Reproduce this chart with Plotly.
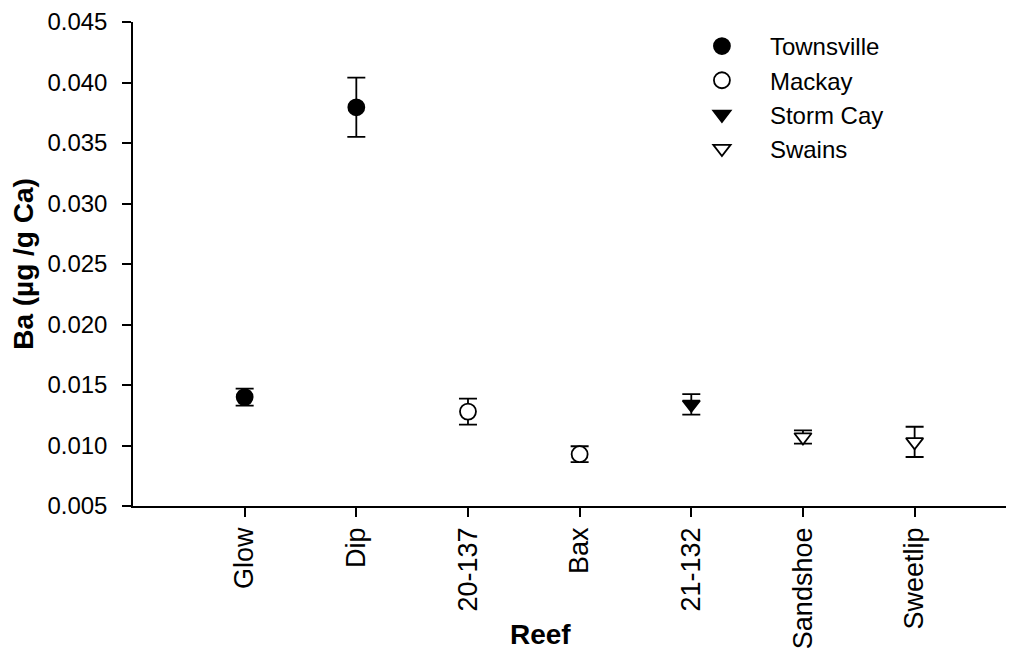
import plotly.graph_objects as go

reefs = ["Glow", "Dip", "20-137", "Bax", "21-132", "Sandshoe", "Sweetlip"]
reef_pos = [1, 2, 3, 4, 5, 6, 7]

townsville_x = [1, 2]
townsville_y = [0.0140, 0.03795]
townsville_err = [0.0007, 0.00245]

mackay_x = [3, 4]
mackay_y = [0.0128, 0.00928]
mackay_err = [0.00107, 0.00066]

stormcay_x = [5]
stormcay_y = [0.0134]
stormcay_err = [0.00085]

swains_x = [6, 7]
swains_y = [0.0107, 0.0103]
swains_err = [0.00055, 0.00125]

yticks = [0.005, 0.010, 0.015, 0.020, 0.025, 0.030, 0.035, 0.040, 0.045]

FONT = "Liberation Sans, Arial, sans-serif"

def series(name, xs, ys, errs, symbol, fill):
    return go.Scatter(
        x=xs, y=ys, name=name, mode="markers",
        marker=dict(symbol=symbol, size=15 if "triangle" in symbol else 16,
                    color=fill, line=dict(color="black", width=1.8)),
        error_y=dict(type="data", array=errs, visible=True, color="black",
                     thickness=1.8, width=9),
    )

fig = go.Figure()
fig.add_trace(series("Townsville", townsville_x, townsville_y, townsville_err, "circle", "black"))
fig.add_trace(series("Mackay", mackay_x, mackay_y, mackay_err, "circle", "white"))
fig.add_trace(series("Storm Cay", stormcay_x, stormcay_y, stormcay_err, "triangle-down", "black"))
fig.add_trace(series("Swains", swains_x, swains_y, swains_err, "triangle-down", "white"))

fig.update_layout(
    width=1006, height=653,
    paper_bgcolor="white", plot_bgcolor="white",
    margin=dict(l=125, r=0, t=12, b=155),
    font=dict(family=FONT, size=24, color="black"),
    showlegend=True,
    legend=dict(x=0.614, y=0.996, xanchor="left", yanchor="top", itemwidth=86,
                bgcolor="rgba(0,0,0,0)", font=dict(size=24)),
    xaxis=dict(
        range=[0, 7.89], tickmode="array", tickvals=reef_pos, ticktext=reefs,
        tickangle=-90, ticks="outside", ticklen=9, tickwidth=1.5, tickcolor="black",
        tickfont=dict(size=27), ticklabeloverflow="allow",
        showline=True, linecolor="black", linewidth=1.5, showgrid=False, zeroline=False,
    ),
    yaxis=dict(
        range=[0.005, 0.045], tickmode="array", tickvals=yticks,
        ticktext=[f"{v:.3f}" for v in yticks],
        ticks="outside", ticklen=9, tickwidth=1.5, tickcolor="black",
        tickfont=dict(size=24), ticklabeloverflow="allow", ticklabelstandoff=10,
        showline=True, linecolor="black", linewidth=1.5, showgrid=False, zeroline=False,
        title=dict(text="<b>Ba (µg /g Ca)</b>", font=dict(size=28), standoff=8),
    ),
    annotations=[dict(text="<b>Reef</b>", xref="paper", yref="paper",
                      x=0.463, y=-0.265, xanchor="center", yanchor="middle",
                      showarrow=False, font=dict(size=28))],
)

fig.write_html("out.html")
